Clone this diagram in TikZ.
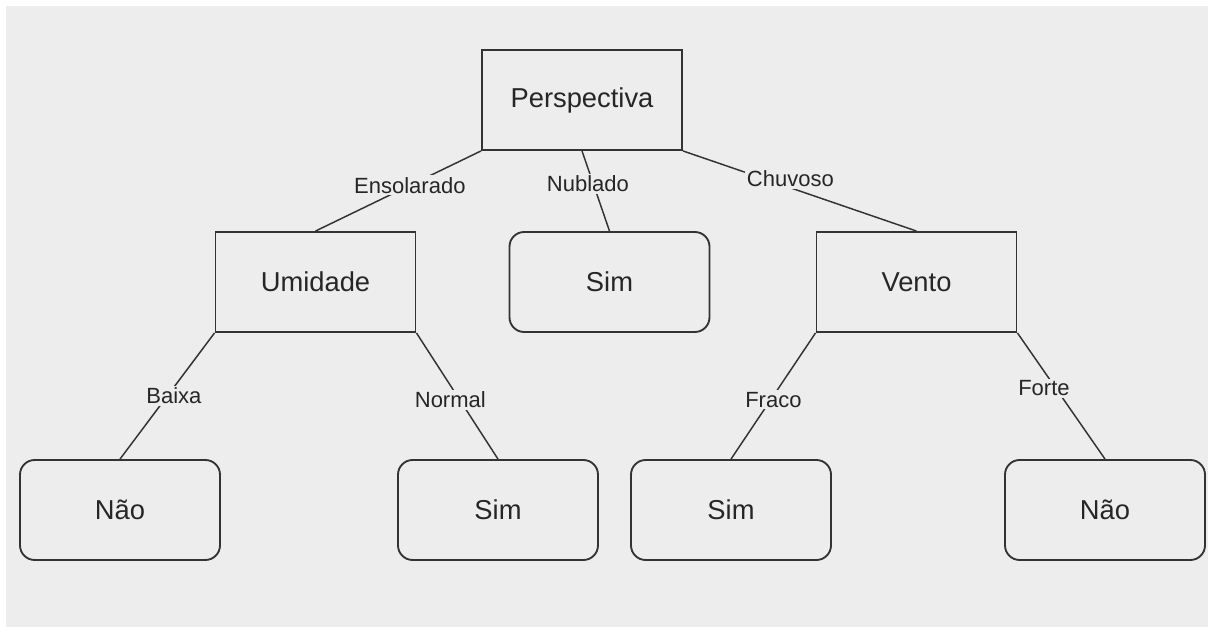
\documentclass[tikz,border=0pt]{standalone}
\usepackage{fontspec}
\setmainfont{Liberation Sans}
\definecolor{bggray}{HTML}{EDEDED}
\definecolor{inkgray}{HTML}{333333}
\tikzset{
  box/.style={draw=inkgray, line width=1.4pt, minimum width=150pt, minimum height=75pt, font=\fontsize{20.5}{24}\selectfont, text=black!85},
  leaf/.style={box, rounded corners=11pt},
  lbl/.style={fill=bggray, inner sep=1.5pt, font=\fontsize{16.5}{19}\selectfont, text=black!85},
  edge/.style={draw=inkgray, line width=1.1pt}
}
\begin{document}
\begin{tikzpicture}[x=0.75pt, y=-0.75pt]
  \useasboundingbox (0,0) rectangle (1208,627);
  \fill[bggray] (6,6) rectangle (1208,627);

  % nodes of the tree
  \node[box]  (persp)   at (582,100)   {Perspectiva};
  \node[box]  (umidade) at (315.5,282) {Umidade};
  \node[leaf] (simA)    at (609.5,282) {Sim};
  \node[box]  (vento)   at (916.5,282) {Vento};
  \node[leaf] (naoA)    at (120,510)   {Não};
  \node[leaf] (simB)    at (498,510)   {Sim};
  \node[leaf] (simC)    at (731,510)   {Sim};
  \node[leaf] (naoB)    at (1105,510)  {Não};

  % branches
  \draw[edge] (persp.south west) -- node[lbl, pos=0.43] {Ensolarado} (umidade.north);
  \draw[edge] (persp.south) -- node[lbl, pos=0.41, xshift=-4pt] {Nublado} (simA.north);
  \draw[edge] (persp.south east) -- node[lbl, pos=0.46, yshift=7pt] {Chuvoso} (vento.north);

  \draw[edge] (umidade.south west) -- node[lbl, pos=0.5, xshift=5pt] {Baixa} (naoA.north);
  \draw[edge] (umidade.south east) -- node[lbl, pos=0.53, xshift=-7pt] {Normal} (simB.north);
  \draw[edge] (vento.south west) -- node[lbl, pos=0.53, xshift=2pt] {Fraco} (simC.north);
  \draw[edge] (vento.south east) -- node[lbl, pos=0.44, xshift=-9pt] {Forte} (naoB.north);
\end{tikzpicture}
\end{document}
